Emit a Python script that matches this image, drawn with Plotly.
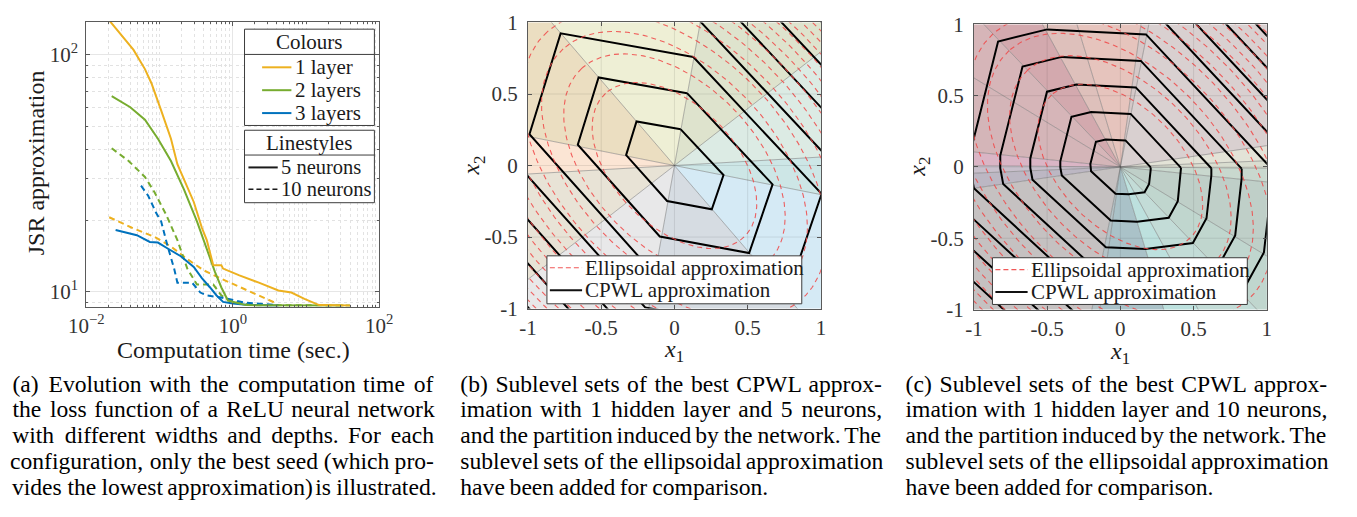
import numpy as np
import plotly.graph_objects as go

W, H = 1357, 517
SERIF = "Liberation Serif"

# ======================= (a) JSR approximation vs time =======================
time_1layer_5n = [0.0205, 0.0308, 0.0441, 0.0631, 0.0774, 0.105, 0.143, 0.175, 0.215, 0.293, 0.378,
                  0.441, 0.541, 0.698, 0.736, 1.23, 2.27, 4.19, 6.31, 9.51, 15.1, 39.8]
jsr_1layer_5n = [140, 120, 105, 87.1, 75.9, 58.3, 44.2, 34.5, 29.6, 23.9, 18.6,
                 16.5, 12.9, 12.9, 12.5, 11.7, 10.9, 10.1, 9.9, 9.31, 8.76, 8.73]

time_2layer_5n = [0.0222, 0.0398, 0.0631, 0.095, 0.143, 0.215, 0.324, 0.441, 0.570, 0.698, 0.857, 1.51, 32.4]
jsr_2layer_5n = [67.0, 60.1, 53.2, 44.2, 35.6, 27.0, 19.8, 15.0, 12.1, 10.4, 9.16, 8.76, 8.73]

time_3layer_5n = [0.0251, 0.0489, 0.0736, 0.095, 0.129, 0.195, 0.293, 0.378, 0.489, 0.60, 0.736, 1.0, 1.51, 4.19]
jsr_3layer_5n = [18.2, 17.3, 16.2, 16.1, 15.2, 14.1, 12.7, 11.4, 10.4, 9.62, 9.04, 8.89, 8.79, 8.73]

time_1layer_10n = [0.0205, 0.0419, 0.0857, 0.143, 0.239, 0.398, 0.664, 1.23, 2.05, 3.78]
jsr_1layer_10n = [20.6, 18.6, 17.0, 15.5, 13.7, 12.3, 11.4, 10.5, 9.75, 8.96]

time_2layer_10n = [0.0222, 0.0378, 0.0631, 0.0857, 0.123, 0.175, 0.239, 0.324, 0.541, 0.698, 1.0, 1.85, 39.8]
jsr_2layer_10n = [40.3, 35.6, 30.5, 26.2, 21.1, 16.5, 12.5, 10.7, 10.7, 9.62, 9.04, 8.76, 8.73]

time_3layer_10n = [0.0558, 0.0699, 0.0903, 0.105, 0.129, 0.158, 0.175, 0.278, 0.36, 0.441, 0.664, 1.51, 4.19]
jsr_3layer_10n = [28.0, 25.4, 21.4, 19.8, 15.5, 12.5, 10.9, 10.9, 9.9, 9.62, 9.46, 8.96, 8.76]

layer_labels = ["1 layer", "2 layers", "3 layers"]
layer_colors = ["#EDB120", "#77AC30", "#0072BD"]
neuron_labels = ["5 neurons", "10 neurons"]

# ======================= (b) 1 hidden layer, 5 neurons =======================
b_line_angles = [3.4, 38.5, 80.0, 130.0, 168.5]          # partition lines through the origin (deg)
b_cone_colors = ["#dcebe4", "#dee3cd", "#eeefd5", "#ebdec1", "#fbe5d4",
                 "#e8e3d6", "#e8e8e9", "#d6dce2", "#d5eaf5", "#cde6e6"]
b_unit_x = [0.043, -0.259, -0.330, -0.050, 0.255, 0.335]  # level-1 sublevel polygon
b_unit_y = [0.253, 0.308, 0.073, -0.248, -0.306, -0.066]
b_levels = [1, 2, 3, 4, 5, 6, 7]

# ======================= (c) 1 hidden layer, 10 neurons =======================
c_line_angles = [2.5, 8.5, 79.0, 82.0, 106.5, 118.0, 133.0, 148.0, 174.0, 179.5]
c_cone_colors = ["#e3e3d7", "#d9d0d0", "#d5c8c8", "#e6c4bd", "#dec0bb", "#d3a9ae", "#d6b5b8",
                 "#d4b5b8", "#dab5c5", "#c8bfcb", "#bcb7c3", "#c5c1c1", "#b4c2c6", "#aac2c8",
                 "#bde1de", "#c3dcd7", "#c0d6ce", "#bfcfc8", "#c9d8ce", "#d9ddd0"]
c_unit_x = [0.207, 0.035, -0.100, -0.167, -0.205, -0.205, -0.200, -0.033, 0.057, 0.165, 0.196, 0.207]
c_unit_y = [-0.003, 0.186, 0.193, 0.176, 0.020, -0.002, -0.030, -0.188, -0.192, -0.178, -0.120, -0.020]
c_levels = [1, 2, 3, 4, 5, 6, 7, 8, 9]

# ======================= ellipsoidal approximation =======================
ell_major, ell_minor, ell_angle = 0.69, 0.42, 133.0
ell_levels = [1.0, 1.81, 2.61, 3.42, 4.23, 5.03, 5.84, 6.65, 7.46, 8.26, 9.07, 9.88, 10.7, 11.5, 12.3]

captions = {
    "a": (-5, 425, ["(a) Evolution with the computation time of",
                    "the loss function of a ReLU neural network",
                    "with different widths and depths. For each",
                    "configuration, only the best seed (which pro-",
                    "vides the lowest approximation) is illustrated."]),
    "b": (453, 883, ["(b) Sublevel sets of the best CPWL approx-",
                     "imation with 1 hidden layer and 5 neurons,",
                     "and the partition induced by the network. The",
                     "sublevel sets of the ellipsoidal approximation",
                     "have been added for comparison."]),
    "c": (909, 1339, ["(c) Sublevel sets of the best CPWL approx-",
                      "imation with 1 hidden layer and 10 neurons,",
                      "and the partition induced by the network. The",
                      "sublevel sets of the ellipsoidal approximation",
                      "have been added for comparison."]),
}

# Times-compatible advance widths (1/1000 em) used to justify the caption lines
TW = {" ": 250, "(": 333, ")": 333, ",": 250, ".": 250, "-": 333, "1": 500, "0": 500, "5": 500,
      "a": 444, "b": 500, "c": 444, "d": 500, "e": 444, "f": 333, "g": 500, "h": 500, "i": 278,
      "j": 278, "k": 500, "l": 278, "m": 778, "n": 500, "o": 500, "p": 500, "q": 500, "r": 333,
      "s": 389, "t": 278, "u": 500, "v": 500, "w": 722, "x": 500, "y": 500, "z": 444,
      "C": 667, "E": 611, "F": 556, "L": 611, "P": 556, "R": 667, "S": 556, "T": 611, "U": 722,
      "W": 944}
CAP_SIZE = 23.6

# ----------------------------------------------------------------------------
fig = go.Figure()


def px(x):
    return x / W


def py(y):
    return 1 - y / H


series_a = [
    (time_1layer_10n, jsr_1layer_10n, 0, "dash"),
    (time_2layer_10n, jsr_2layer_10n, 1, "dash"),
    (time_3layer_10n, jsr_3layer_10n, 2, "dash"),
    (time_3layer_5n, jsr_3layer_5n, 2, "solid"),
    (time_2layer_5n, jsr_2layer_5n, 1, "solid"),
    (time_1layer_5n, jsr_1layer_5n, 0, "solid"),
]
for t, v, ci, ds in series_a:
    fig.add_trace(go.Scatter(x=t, y=v, mode="lines", xaxis="x", yaxis="y", showlegend=False,
                             line=dict(color=layer_colors[ci], width=2,
                                       dash="6px,4px" if ds == "dash" else "solid")))


def add_partition(line_angles, colors, xa, ya):
    rays = sorted([a for a in line_angles] + [a + 180.0 for a in line_angles])
    n = len(rays)
    for i in range(n):
        a1 = rays[i]
        a2 = rays[i + 1] if i + 1 < n else rays[0] + 360.0
        th = np.radians(np.linspace(a1, a2, 20))
        xs = [0.0] + list(2.0 * np.cos(th)) + [0.0]
        ys = [0.0] + list(2.0 * np.sin(th)) + [0.0]
        fig.add_trace(go.Scatter(x=xs, y=ys, mode="lines", fill="toself", fillcolor=colors[i],
                                 line=dict(width=0), xaxis=xa, yaxis=ya, showlegend=False,
                                 hoverinfo="skip"))
    lx, ly = [], []
    for a in rays:
        r = np.radians(a)
        lx += [0.0, 2.0 * np.cos(r), None]
        ly += [0.0, 2.0 * np.sin(r), None]
    fig.add_trace(go.Scatter(x=lx, y=ly, mode="lines", line=dict(color="rgba(110,110,110,0.5)", width=1),
                             xaxis=xa, yaxis=ya, showlegend=False, hoverinfo="skip"))


def add_levels(ux, uy, levels, xa, ya):
    xs, ys = [], []
    for k in levels:
        xs += [k * v for v in ux] + [k * ux[0], None]
        ys += [k * v for v in uy] + [k * uy[0], None]
    fig.add_trace(go.Scatter(x=xs, y=ys, mode="lines", line=dict(color="black", width=2),
                             xaxis=xa, yaxis=ya, showlegend=False))


def add_ellipses(xa, ya):
    t = np.linspace(0, 2 * np.pi, 241)
    phi = np.radians(ell_angle)
    xs, ys = [], []
    for l in ell_levels:
        a = ell_major * np.sqrt(l)
        b = ell_minor * np.sqrt(l)
        ex = a * np.cos(t) * np.cos(phi) - b * np.sin(t) * np.sin(phi)
        ey = a * np.cos(t) * np.sin(phi) + b * np.sin(t) * np.cos(phi)
        xs += list(ex) + [None]
        ys += list(ey) + [None]
    fig.add_trace(go.Scatter(x=xs, y=ys, mode="lines",
                             line=dict(color="rgba(240,70,70,0.85)", width=1.1, dash="5px,4px"),
                             xaxis=xa, yaxis=ya, showlegend=False))


add_partition(b_line_angles, b_cone_colors, "x2", "y2")
add_levels(b_unit_x, b_unit_y, b_levels, "x2", "y2")
add_ellipses("x2", "y2")

add_partition(c_line_angles, c_cone_colors, "x3", "y3")
add_levels(c_unit_x, c_unit_y, c_levels, "x3", "y3")
add_ellipses("x3", "y3")


# ---- captions (justified; every line but the last one fills its column), drawn on a
#      full-page text layer; words that start left of the page are anchored by their right end
def word_width(w):
    return sum(TW.get(ch, 500) for ch in w) / 1000.0 * CAP_SIZE


lx_, ly_, lt_ = [], [], []     # left-anchored words
rx_, ry_, rt_ = [], [], []     # right-anchored words (cut by the page edge)


def put(word, x_left, y, wd):
    if x_left < 1:
        rx_.append(x_left + wd); ry_.append(y); rt_.append(word)
    else:
        lx_.append(x_left); ly_.append(y); lt_.append(word)


for key, (x0, x1, lines) in captions.items():
    for i, s in enumerate(lines):
        yy = 392 + 27.0 * i
        words = s.split(" ")
        widths = [word_width(w) for w in words]
        if i == len(lines) - 1:
            gap = TW[" "] / 1000.0 * CAP_SIZE
        else:
            gap = (x1 - x0 - sum(widths)) / (len(words) - 1)
        xx = x0
        for w, wd in zip(words, widths):
            put(w, xx, yy, wd)
            xx += wd + gap

capfont = dict(family=SERIF, size=CAP_SIZE, color="black")
fig.add_trace(go.Scatter(x=lx_, y=ly_, text=lt_, mode="text", textposition="middle right", textfont=capfont,
                         cliponaxis=False, xaxis="x4", yaxis="y4", showlegend=False, hoverinfo="skip"))
fig.add_trace(go.Scatter(x=rx_, y=ry_, text=rt_, mode="text", textposition="middle left", textfont=capfont,
                         cliponaxis=False, xaxis="x4", yaxis="y4", showlegend=False, hoverinfo="skip"))

# ---- axes
AX_COL = "#5a5a5a"
tickfont = dict(family=SERIF, size=21, color="#333333")
common = dict(showline=True, linecolor=AX_COL, linewidth=1, mirror="ticks", ticks="inside",
              ticklen=4, tickcolor=AX_COL, tickfont=tickfont, zeroline=False, ticklabeloverflow="allow")

doms = {
    "a": ([70, 370], [10, 309]),
    "b": ([522.3, 822.3], [11, 311]),
    "c": ([979, 1279], [13, 312]),
}


def xdom(k):
    return [px(doms[k][0][0]), px(doms[k][0][1])]


def ydom(k):
    return [py(doms[k][1][1]), py(doms[k][1][0])]


minor_x = [v * 10.0 ** e for e in (-2, -1, 0, 1) for v in range(2, 10)] + [0.1, 10]
minor_y = [9] + [v * 10 for v in range(2, 10)]

tv = [-1, -0.5, 0, 0.5, 1]
tt = ["-1", "-0.5", "0", "0.5", "1"]

fig.update_layout(
    width=W, height=H, autosize=False,
    margin=dict(l=0, r=0, t=0, b=0),
    paper_bgcolor="white", plot_bgcolor="rgba(0,0,0,0)",
    showlegend=False,
    xaxis=dict(domain=xdom("a"), anchor="y", type="log", range=[-2, 2],
               tickvals=[0.01, 1, 100], ticktext=["10<sup>−2</sup>", "10<sup>0</sup>", "10<sup>2</sup>"],
               showgrid=True, gridcolor="#e6e6e6", gridwidth=1,
               minor=dict(tickvals=minor_x, ticks="inside", ticklen=2, tickcolor=AX_COL,
                          showgrid=True, gridcolor="#e2e2e2", griddash="dot", gridwidth=1),
               **common),
    yaxis=dict(domain=ydom("a"), anchor="x", type="log", range=[0.936, 2.141],
               tickvals=[10, 100], ticktext=["10<sup>1</sup>", "10<sup>2</sup>"],
               showgrid=True, gridcolor="#e6e6e6", gridwidth=1, ticklabelstandoff=3,
               minor=dict(tickvals=minor_y, ticks="inside", ticklen=2, tickcolor=AX_COL,
                          showgrid=True, gridcolor="#e2e2e2", griddash="dot", gridwidth=1),
               **common),
    xaxis2=dict(domain=xdom("b"), anchor="y2", range=[-1, 1], tickvals=tv, ticktext=tt,
                showgrid=False, **common),
    yaxis2=dict(domain=ydom("b"), anchor="x2", range=[-1, 1], tickvals=tv, ticktext=tt,
                showgrid=False, ticklabelstandoff=5, **common),
    xaxis3=dict(domain=xdom("c"), anchor="y3", range=[-1, 1], tickvals=tv, ticktext=tt,
                showgrid=False, **common),
    yaxis3=dict(domain=ydom("c"), anchor="x3", range=[-1, 1], tickvals=tv, ticktext=tt,
                showgrid=False, ticklabelstandoff=5, **common),
    xaxis4=dict(domain=[0, 1], anchor="y4", range=[0, W], visible=False, fixedrange=True),
    yaxis4=dict(domain=[0, 1], anchor="x4", range=[H, 0], visible=False, fixedrange=True),
)

shapes = []
annotations = []

# grid lines drawn over the coloured partitions of (b) and (c)
for xa, ya in (("x2", "y2"), ("x3", "y3")):
    for v in (-0.5, 0, 0.5):
        shapes.append(dict(type="line", xref=xa, yref=ya, x0=v, x1=v, y0=-1, y1=1, layer="above",
                           line=dict(color="rgba(0,0,0,0.09)", width=1)))
        shapes.append(dict(type="line", xref=xa, yref=ya, y0=v, y1=v, x0=-1, x1=1, layer="above",
                           line=dict(color="rgba(0,0,0,0.09)", width=1)))


def rect(x0, y0, x1, y1):
    shapes.append(dict(type="rect", xref="paper", yref="paper", x0=px(x0), x1=px(x1), y0=py(y1), y1=py(y0),
                       fillcolor="white", line=dict(color="#3c3c3c", width=1), layer="above"))


def hline(x0, x1, y, color, dash="solid", width=1.0):
    shapes.append(dict(type="line", xref="paper", yref="paper", x0=px(x0), x1=px(x1), y0=py(y), y1=py(y),
                       line=dict(color=color, width=width, dash=dash), layer="above"))


def text(x, y, s, size=21, xanchor="left", color="#1a1a1a", angle=0):
    annotations.append(dict(xref="paper", yref="paper", x=px(x), y=py(y), text=s, showarrow=False,
                            xanchor=xanchor, yanchor="middle", textangle=angle,
                            font=dict(family=SERIF, size=size, color=color)))


# ---- legend of (a)
rect(232, 18, 365, 119)
hline(232, 365, 44.5, "#3c3c3c")
text(298.5, 31, "Colours", xanchor="center")
for i, (lab, col) in enumerate(zip(layer_labels, layer_colors)):
    yy = 58 + 24 * i
    hline(250, 280, yy, col, width=2)
    text(282, yy, lab)
rect(232, 124, 365, 200)
hline(232, 365, 150, "#3c3c3c")
text(298.5, 137, "Linestyles", xanchor="center")
hline(236, 266, 163, "#1a1a1a", width=2)
text(267, 163, neuron_labels[0], size=20.5)
hline(236, 266, 186, "#1a1a1a", dash="5px,3px", width=1.5)
text(267, 186, neuron_labels[1], size=20.5)

# ---- legends of (b) and (c)
for (bx0, by0, bx1, by1) in ((541.7, 255.7, 802.7, 306), (998, 257.7, 1259, 306.7)):
    rect(bx0, by0, bx1, by1)
    r1 = by0 + 12.5
    r2 = by0 + 36
    hline(bx0 + 3, bx0 + 36, r1, "rgba(240,70,70,0.9)", dash="5px,3px", width=1.2)
    text(bx0 + 37, r1, "Ellipsoidal approximation")
    hline(bx0 + 3, bx0 + 36, r2, "#111111", width=2)
    text(bx0 + 37, r2, "CPWL approximation")

# ---- axis titles
text(221, 354, "Computation time (sec.)", size=24, xanchor="center")
text(18, 158, "JSR approximation", size=24, xanchor="center", angle=-90)
text(672.3, 356, "<i>x</i><sub>1</sub>", size=24, xanchor="center")
text(466, 161, "<i>x</i><sub>2</sub>", size=24, xanchor="center", angle=-90)
text(1129, 358, "<i>x</i><sub>1</sub>", size=24, xanchor="center")
text(923, 162, "<i>x</i><sub>2</sub>", size=24, xanchor="center", angle=-90)

fig.update_layout(shapes=shapes, annotations=annotations)
fig.write_html("out.html")
